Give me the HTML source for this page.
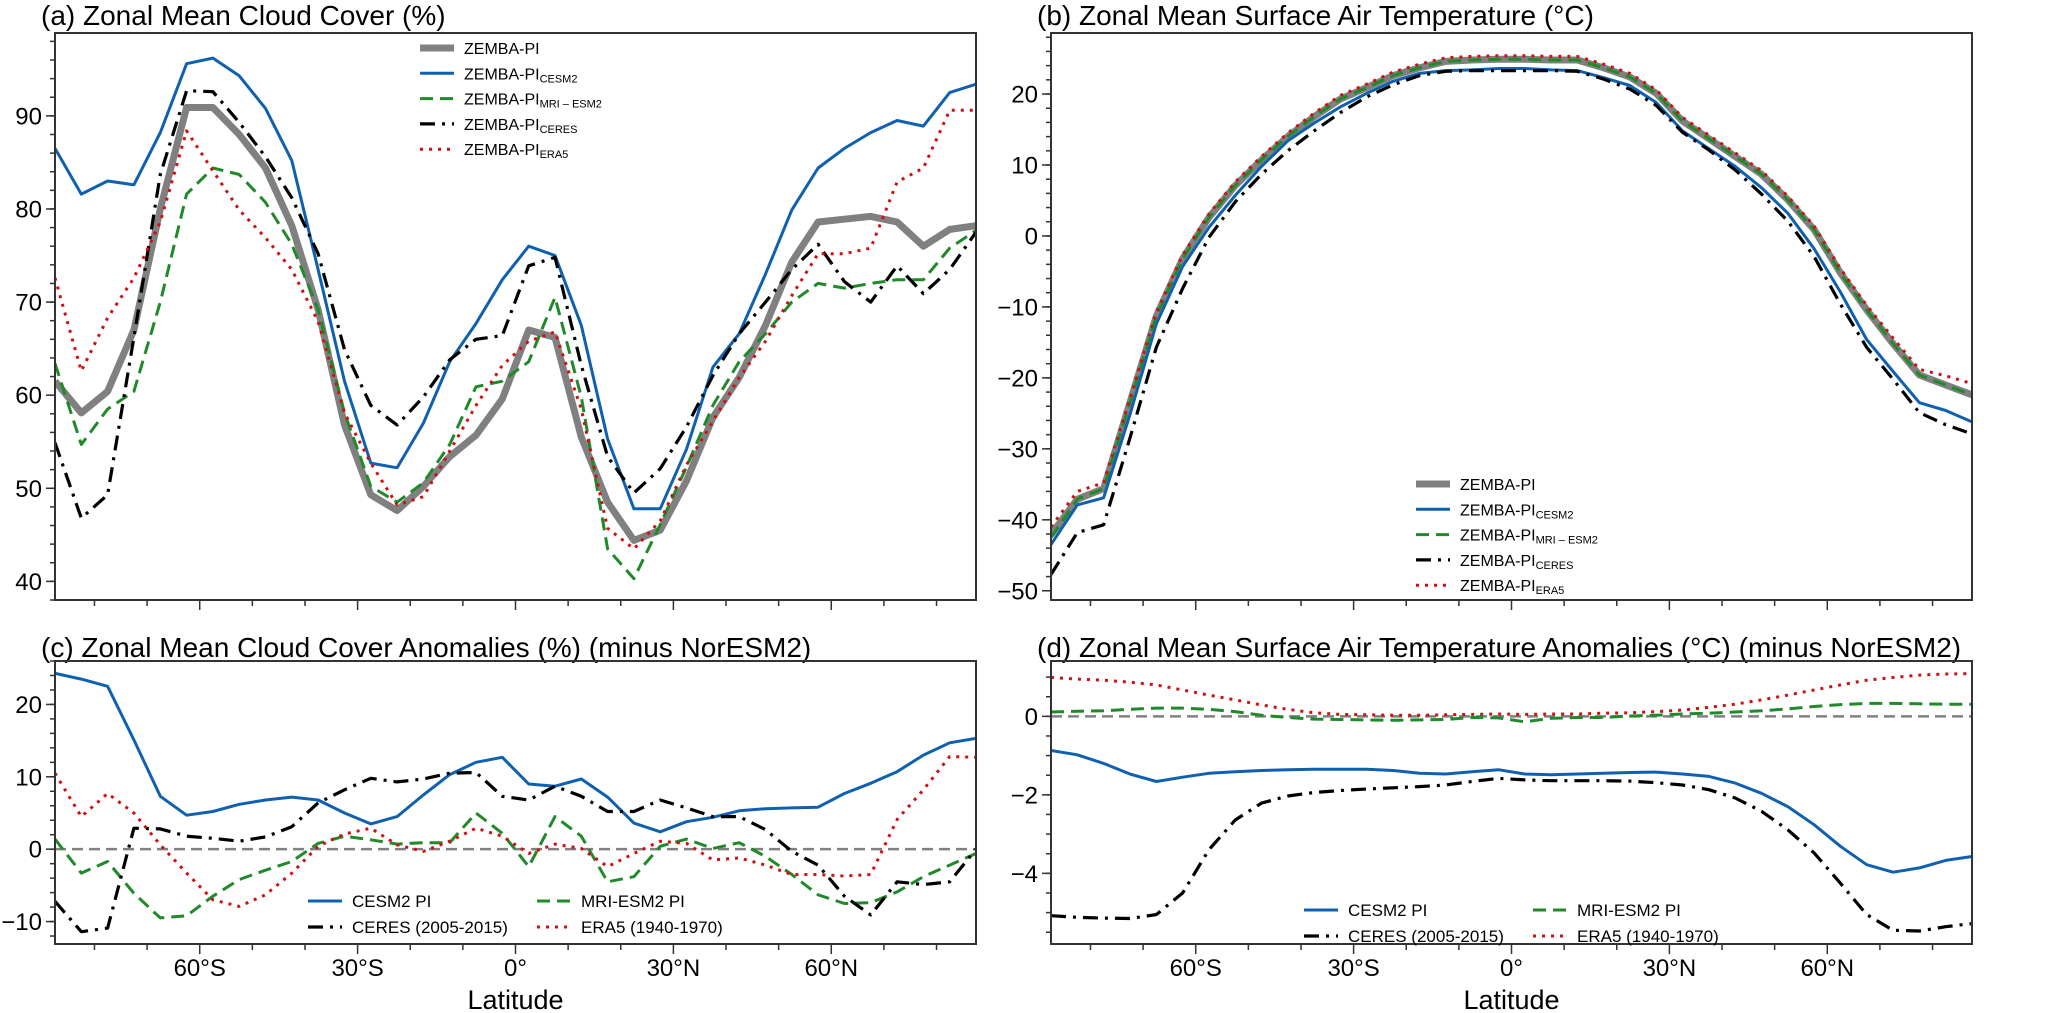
<!DOCTYPE html>
<html><head><meta charset="utf-8">
<style>
html,body{margin:0;padding:0;background:#fff;}
svg{display:block;font-family:"Liberation Sans",Arial,sans-serif;}
</style></head>
<body>
<svg id="fig" width="2067" height="1013" viewBox="0 0 2067 1013" xmlns="http://www.w3.org/2000/svg"></svg>
<script>
const lats = [];
for (let k = 0; k < 36; k++) lats.push(-87.5 + 5 * k);
const xTickLabels = ["60°S","30°S","0°","30°N","60°N"];
const xTickValues = [-60,-30,0,30,60];

// Panel (a) cloud cover (%)
const aZemba = [61.5,58.1,60.4,67,80,90.9,90.9,88,84.4,78.2,69.2,56.8,49.3,47.6,50.2,53.4,55.7,59.6,67,66.2,55.5,48.5,44.4,45.5,50.8,57.6,61.9,67.5,74.3,78.6,78.9,79.2,78.6,76,77.8,78.2];
const aCesm = [86.5,81.6,83,82.6,88.2,95.6,96.2,94.3,90.8,85.2,73.5,61.5,52.7,52.2,57,63.6,67.7,72.4,76,75,67.5,55.3,47.8,47.8,54.2,63,66.6,73,79.9,84.4,86.5,88.2,89.5,88.9,92.5,93.4];
const aMri = [63.4,54.7,58.5,60.4,70,81.6,84.4,83.7,80.7,76.2,69.2,58.1,50.2,48.5,50.6,54.7,60.9,61.5,63.6,70.5,59.8,43.5,40.3,46.1,52.3,58.9,63.6,66.6,70,72,71.5,72,72.4,72.4,75.8,77.7];
const aCeres = [54.9,46.8,49.3,66.2,83.7,92.7,92.6,89.3,85.6,81.2,75.2,64.9,58.9,56.8,59.8,63.8,66,66.4,73.9,74.8,63.2,53.4,49.5,52.1,56.6,62.1,66.6,70,73.5,76.2,72.2,70,73.9,70.9,73.5,77.5];
const aEra = [72.6,62.6,68.3,72.6,78.6,88.4,84.1,79.9,76.9,73.5,67.9,58.1,52.7,48.2,49.1,54,58.9,63.2,65.8,66.8,58.5,45.7,43.5,46.5,52.5,57.2,61.9,65.8,70.7,75.2,75.2,75.8,82.9,84.4,90.6,90.6];
const aTicks = [40,50,60,70,80,90];

// Panel (b) surface air temperature (°C)
const bZemba = [-42.1,-37.1,-35.6,-23.5,-11.3,-3.2,2.6,7.1,10.7,14,16.8,19.3,20.9,22.6,23.7,24.6,24.8,24.9,24.9,24.8,24.8,23.7,22.4,20.1,16.2,13.7,11.2,8.7,5.1,0.9,-5.2,-10.4,-15.2,-19.6,-21,-22.4];
const bCesm = [-43.5,-37.9,-36.9,-25.2,-12.4,-4.3,1.2,5.7,9.8,13.4,15.9,18.2,20.1,21.8,22.9,23.3,23.4,23.6,23.6,23.4,23.3,22.3,21.2,18.8,14.8,12.3,9.8,6.8,3.2,-1.8,-7.9,-14.6,-19.1,-23.5,-24.6,-26.2];
const bMri = [-42.5,-37.1,-35.6,-23.5,-11.3,-3.2,2.6,7.1,10.7,14,16.8,19.3,20.9,22.6,23.7,24.6,24.8,24.9,24.9,24.8,24.8,23.7,22.4,20.1,16.2,13.7,11.2,8.7,5.1,0.9,-5.2,-10.4,-15.2,-19.6,-21,-22.4];
const bCeres = [-47.7,-41.8,-40.7,-28.5,-15.7,-7.4,-0.2,4.8,8.7,12,14.8,17.4,19.6,21.3,22.6,23.2,23.3,23.3,23.3,23.3,23.2,22.1,20.7,18.4,14.6,12.1,9.3,5.9,2.1,-2.9,-9.6,-15.7,-20.2,-24.9,-26.6,-27.9];
const bEra = [-41,-36,-34.8,-23,-10.8,-2.7,3.1,7.6,11.2,14.5,17.3,19.8,21.4,23.1,24.2,25.1,25.3,25.4,25.4,25.3,25.3,24.2,22.9,20.6,16.7,14.2,11.7,9.2,5.6,1.4,-4.6,-9.8,-14.4,-18.8,-19.7,-20.8];
const bTicks = [-50,-40,-30,-20,-10,0,10,20];

// Panel (c) cloud cover anomalies (%)
const cCesm = [24.3,23.5,22.5,15.1,7.3,4.7,5.2,6.2,6.8,7.2,6.8,5,3.5,4.5,7.5,10.3,12,12.7,9,8.7,9.7,7.2,3.6,2.4,3.8,4.4,5.3,5.6,5.7,5.8,7.7,9.1,10.7,13,14.7,15.3];
const cMri = [1.4,-3.3,-1.7,-6.1,-9.5,-9.2,-6.5,-4.2,-2.9,-1.7,0.8,1.8,1.3,0.7,0.9,0.9,5,2.2,-2.4,4.5,1.8,-4.5,-3.8,0.4,1.4,0.1,0.9,-1,-3.5,-6.3,-7.5,-7.4,-5.9,-3.8,-2.2,-0.6];
const cCeres = [-7.2,-11.4,-10.9,2.9,2.8,1.8,1.5,1.1,1.7,3.1,6.4,8.2,9.8,9.3,9.7,10.5,10.6,7.3,6.8,8.7,7.3,5.2,5.2,6.8,5.7,4.5,4.5,2.7,-0.3,-2.2,-6.5,-9.1,-4.5,-4.9,-4.5,0];
const cEra = [10.5,4.5,7.7,5,0.6,-3.3,-7,-7.9,-6.3,-3.3,0.4,2.1,2.9,0.6,-0.3,1.1,2.9,1.8,-0.6,0.7,0.1,-2.4,-0.6,1.1,0.8,-1.5,-1.2,-2.2,-3.5,-3.5,-3.7,-3.5,4.1,8.2,12.8,12.7];
const cTicks = [-10,0,10,20];

// Panel (d) temperature anomalies (°C)
const dCesm = [-0.87,-0.98,-1.2,-1.47,-1.66,-1.55,-1.45,-1.41,-1.38,-1.36,-1.35,-1.35,-1.35,-1.38,-1.45,-1.47,-1.41,-1.36,-1.47,-1.49,-1.47,-1.45,-1.43,-1.42,-1.47,-1.53,-1.7,-1.96,-2.3,-2.76,-3.31,-3.78,-3.97,-3.86,-3.67,-3.57];
const dMri = [0.11,0.13,0.14,0.18,0.21,0.21,0.18,0.12,0.03,-0.03,-0.07,-0.08,-0.09,-0.1,-0.09,-0.08,-0.03,-0.04,-0.14,-0.05,-0.03,-0.03,0.01,0.03,0.06,0.08,0.11,0.14,0.19,0.25,0.3,0.33,0.33,0.32,0.31,0.31];
const dCeres = [-5.08,-5.12,-5.14,-5.15,-5.05,-4.5,-3.4,-2.64,-2.21,-2.03,-1.94,-1.89,-1.85,-1.82,-1.79,-1.75,-1.66,-1.58,-1.62,-1.64,-1.64,-1.64,-1.65,-1.69,-1.75,-1.87,-2.08,-2.42,-2.89,-3.48,-4.25,-5.05,-5.45,-5.47,-5.36,-5.28];
const dEra = [0.99,0.95,0.92,0.87,0.8,0.67,0.54,0.42,0.29,0.18,0.09,0.05,0.04,0.03,0.03,0.04,0.05,0.06,0.05,0.06,0.06,0.08,0.09,0.12,0.16,0.23,0.31,0.42,0.54,0.67,0.8,0.92,0.99,1.05,1.08,1.09];
const dTicks = [-4,-2,0];

const NS = "http://www.w3.org/2000/svg";
const svg = document.getElementById("fig");
function mk(tag, attrs, parent) {
  const e = document.createElementNS(NS, tag);
  for (const k in attrs) e.setAttribute(k, attrs[k]);
  (parent || svg).appendChild(e);
  return e;
}
const STY = {
  zemba: {stroke:"#808080", w:7, dash:null},
  cesm: {stroke:"#1060b0", w:3, dash:null},
  mri: {stroke:"#208a2a", w:3, dash:"13 7"},
  ceres: {stroke:"#000000", w:3.2, dash:"15 7 3 7"},
  era: {stroke:"#d01010", w:3, dash:"3 6"}
};

function panel(p) {
  const g = mk("g", {});
  
  
  const L = p.x0, R = p.x1, T = p.y0, B = p.y1;
  const xs = v => L + (v + 87.5) / 175 * (R - L);
  const ys = v => B - (v - p.ymin) / (p.ymax - p.ymin) * (B - T);
  const t = mk("text", {x: L - 14, y: T - p.tOff, "font-size": 28, fill: "#000"}, g);
  t.textContent = p.title;
  
  
  if (p.zero) {
    const z = mk("line", {x1: L, x2: R, y1: ys(0), y2: ys(0), stroke: "#808080", "stroke-width": 2.5, "stroke-dasharray": "11 6"}, g);
    
    
  }
  const cp = "clip-" + p.name;
  const cl = mk("clipPath", {id: cp}, g);
  mk("rect", {x: L, y: T, width: R - L, height: B - T}, cl);
  p.series.forEach(s => {
    const st = STY[s.key];
    const d = s.vals.map((v, i) => (i ? "L" : "M") + xs(lats[i]).toFixed(1) + " " + ys(v).toFixed(1)).join(" ");
    const a = {d: d, fill: "none", stroke: st.stroke, "stroke-width": st.w, "stroke-linejoin": "round", "clip-path": "url(#" + cp + ")"};
    if (st.dash) a["stroke-dasharray"] = st.dash;
    const path = mk("path", a, g);
    
    
  });
  const fr = mk("rect", {x: L, y: T, width: R - L, height: B - T, fill: "none", stroke: "#333", "stroke-width": 2}, g);
  
  
  for (let v = Math.ceil(p.ymin / p.minor) * p.minor; v <= p.ymax + 1e-9; v += p.minor) {
    const y = ys(v);
    mk("line", {x1: L - 5, x2: L, y1: y, y2: y, stroke: "#333", "stroke-width": 1.5}, g);
  }
  p.yticks.forEach(v => {
    const y = ys(v);
    mk("line", {x1: L - 9, x2: L, y1: y, y2: y, stroke: "#333", "stroke-width": 1.5}, g);
    const tx = mk("text", {x: L - 13, y: y + 8.5, "font-size": 24, "text-anchor": "end"}, g);
    tx.textContent = v < 0 ? "\u2212" + Math.abs(v) : String(v);
    
    
  });
  for (let v = -80; v <= 80; v += 10) {
    const major = v % 30 === 0;
    mk("line", {x1: xs(v), x2: xs(v), y1: B, y2: B + (major ? 10 : 6), stroke: "#333", "stroke-width": 1.5}, g);
  }
  if (p.xlabels) {
    xTickValues.forEach((v, i) => {
      const tx = mk("text", {x: xs(v), y: B + 32, "font-size": 24, "text-anchor": "middle"}, g);
      tx.textContent = xTickLabels[i];
      
      
    });
    const xl = mk("text", {x: xs(0), y: B + 65, "font-size": 27, "text-anchor": "middle"}, g);
    xl.textContent = "Latitude";
    
    
  }
  p.legend.forEach(it => {
    const st = STY[it.key];
    const lg = mk("g", {}, g);
    
    
    const la = {x1: it.x, x2: it.x + 34, y1: it.y, y2: it.y, stroke: st.stroke, "stroke-width": st.w};
    if (st.dash) la["stroke-dasharray"] = st.dash;
    mk("line", la, lg);
    const tx = mk("text", {x: it.x + 44, y: it.y + 6, "font-size": it.fs || 16}, lg);
    tx.textContent = it.label;
    if (it.sub) {
      const ts = mk("tspan", {"font-size": 11, dy: 3}, tx);
      ts.textContent = it.sub;
    }
  });
}

const zl = (x, y0, dy) => [
  {key:"zemba", label:"ZEMBA-PI", x:x, y:y0},
  {key:"cesm", label:"ZEMBA-PI", sub:"CESM2", x:x, y:y0+dy},
  {key:"mri", label:"ZEMBA-PI", sub:"MRI \u2013 ESM2", x:x, y:y0+2*dy},
  {key:"ceres", label:"ZEMBA-PI", sub:"CERES", x:x, y:y0+3*dy},
  {key:"era", label:"ZEMBA-PI", sub:"ERA5", x:x, y:y0+4*dy}
];

panel({name:"panel-a-cloud-cover", title:"(a) Zonal Mean Cloud Cover (%)", x0:55, x1:976, y0:33, y1:600, tOff:8,
  ymin:38.0, ymax:98.9, minor:2, yticks:aTicks, zero:false, xlabels:false,
  series:[{key:"zemba",vals:aZemba},{key:"cesm",vals:aCesm},{key:"mri",vals:aMri},{key:"ceres",vals:aCeres},{key:"era",vals:aEra}],
  legend: zl(420, 48, 25.3)});
panel({name:"panel-b-temperature", title:"(b) Zonal Mean Surface Air Temperature (°C)", x0:1051, x1:1972, y0:33, y1:600, tOff:8,
  ymin:-51.3, ymax:28.6, minor:2, yticks:bTicks, zero:false, xlabels:false,
  series:[{key:"zemba",vals:bZemba},{key:"cesm",vals:bCesm},{key:"mri",vals:bMri},{key:"ceres",vals:bCeres},{key:"era",vals:bEra}],
  legend: zl(1416, 484, 25.3)});
panel({name:"panel-c-cloud-anomalies", title:"(c) Zonal Mean Cloud Cover Anomalies (%) (minus NorESM2)", x0:55, x1:976, y0:661, y1:944, tOff:4,
  ymin:-13.1, ymax:26, minor:2, yticks:cTicks, zero:true, xlabels:true,
  series:[{key:"cesm",vals:cCesm},{key:"mri",vals:cMri},{key:"ceres",vals:cCeres},{key:"era",vals:cEra}],
  legend:[{key:"cesm",label:"CESM2 PI",x:308,y:901,fs:17},{key:"ceres",label:"CERES (2005-2015)",x:308,y:927,fs:17},
          {key:"mri",label:"MRI-ESM2 PI",x:537,y:901,fs:17},{key:"era",label:"ERA5 (1940-1970)",x:537,y:927,fs:17}]});
panel({name:"panel-d-temperature-anomalies", title:"(d) Zonal Mean Surface Air Temperature Anomalies (°C) (minus NorESM2)", x0:1051, x1:1972, y0:661, y1:944, tOff:4,
  ymin:-5.8, ymax:1.41, minor:0.5, yticks:dTicks, zero:true, xlabels:true,
  series:[{key:"cesm",vals:dCesm},{key:"mri",vals:dMri},{key:"ceres",vals:dCeres},{key:"era",vals:dEra}],
  legend:[{key:"cesm",label:"CESM2 PI",x:1304,y:910,fs:17},{key:"ceres",label:"CERES (2005-2015)",x:1304,y:936,fs:17},
          {key:"mri",label:"MRI-ESM2 PI",x:1533,y:910,fs:17},{key:"era",label:"ERA5 (1940-1970)",x:1533,y:936,fs:17}]});
</script>
</body></html>
